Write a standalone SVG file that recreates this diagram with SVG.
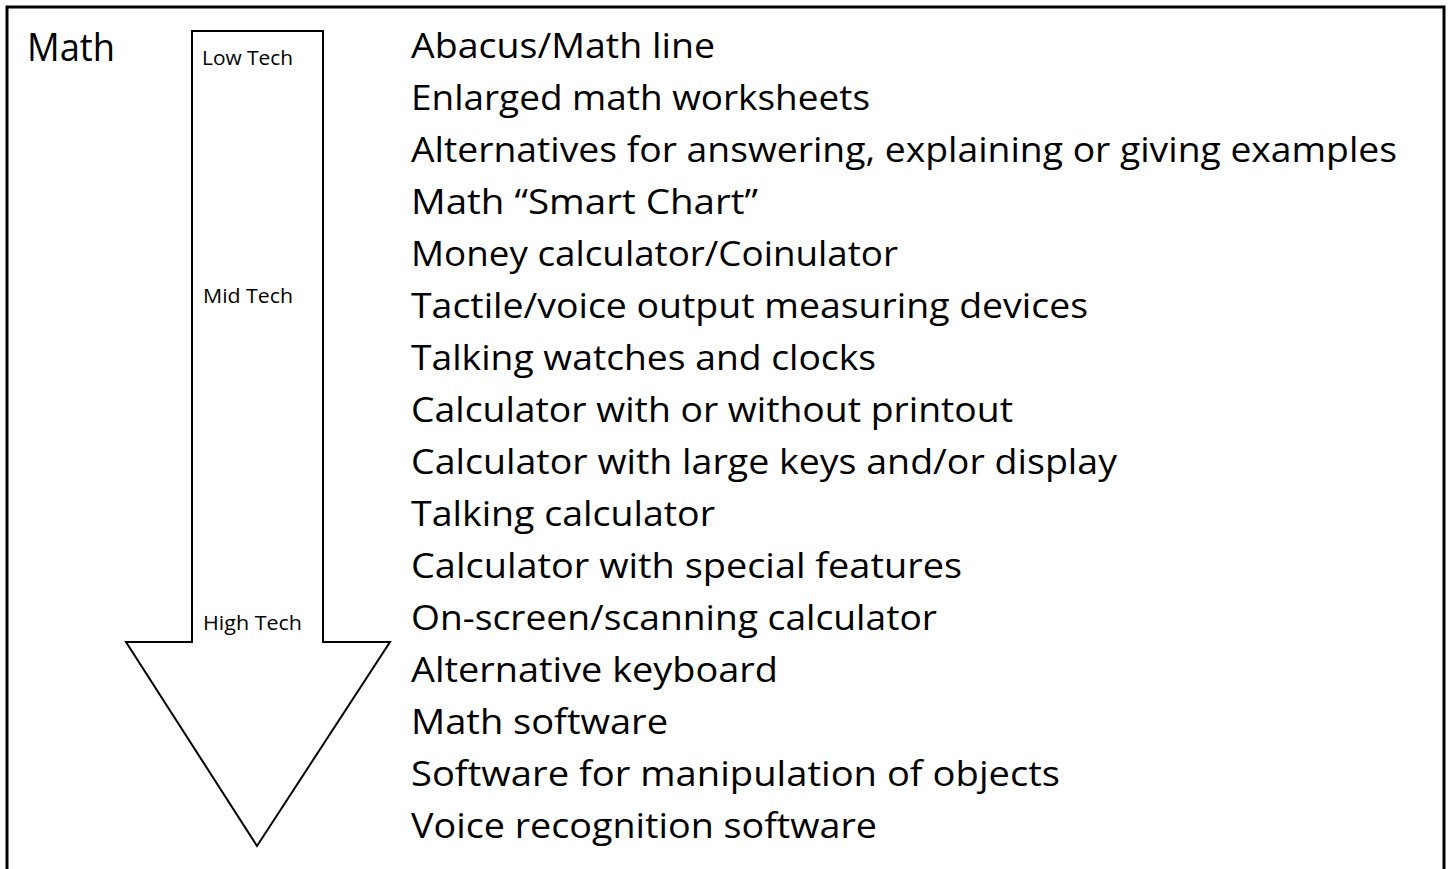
<svg xmlns="http://www.w3.org/2000/svg" width="1452" height="869" viewBox="0 0 1452 869">
<style>
.item{font-family:"Comic Sans MS","Open Sans",sans-serif;font-size:35px;fill:#000}
.tech{font-family:"Comic Sans MS","Open Sans",sans-serif;font-size:20px;fill:#000}
.title{font-family:"Comic Sans MS","Open Sans",sans-serif;font-size:38px;fill:#000}
</style>
<rect x="0" y="0" width="1452" height="869" fill="#fff"/>
<g id="frame">
<rect x="7" y="7" width="1437" height="875" fill="none" stroke="#000" stroke-width="3"/>
</g>
<g id="title">
<text class="title" x="27" y="61" textLength="88" lengthAdjust="spacingAndGlyphs">Math</text>
</g>
<g id="arrow">
<polygon points="192,31 323,31 323,642 390,642 257,846 126,642 192,642" fill="#fff" stroke="#000" stroke-width="2"/>
<text class="tech" x="202" y="65" textLength="91" lengthAdjust="spacingAndGlyphs">Low Tech</text>
<text class="tech" x="203" y="303" textLength="90" lengthAdjust="spacingAndGlyphs">Mid Tech</text>
<text class="tech" x="203" y="630" textLength="99" lengthAdjust="spacingAndGlyphs">High Tech</text>
</g>
<g id="items">
<text class="item" x="411" y="58" textLength="304" lengthAdjust="spacingAndGlyphs">Abacus/Math line</text>
<text class="item" x="411" y="110" textLength="459" lengthAdjust="spacingAndGlyphs">Enlarged math worksheets</text>
<text class="item" x="411" y="162" textLength="986" lengthAdjust="spacingAndGlyphs">Alternatives for answering, explaining or giving examples</text>
<text class="item" x="411" y="214" textLength="347" lengthAdjust="spacingAndGlyphs">Math “Smart Chart”</text>
<text class="item" x="411" y="266" textLength="487" lengthAdjust="spacingAndGlyphs">Money calculator/Coinulator</text>
<text class="item" x="411" y="318" textLength="677" lengthAdjust="spacingAndGlyphs">Tactile/voice output measuring devices</text>
<text class="item" x="411" y="370" textLength="465" lengthAdjust="spacingAndGlyphs">Talking watches and clocks</text>
<text class="item" x="411" y="422" textLength="602" lengthAdjust="spacingAndGlyphs">Calculator with or without printout</text>
<text class="item" x="411" y="474" textLength="706" lengthAdjust="spacingAndGlyphs">Calculator with large keys and/or display</text>
<text class="item" x="411" y="526" textLength="304" lengthAdjust="spacingAndGlyphs">Talking calculator</text>
<text class="item" x="411" y="578" textLength="551" lengthAdjust="spacingAndGlyphs">Calculator with special features</text>
<text class="item" x="411" y="630" textLength="526" lengthAdjust="spacingAndGlyphs">On-screen/scanning calculator</text>
<text class="item" x="411" y="682" textLength="367" lengthAdjust="spacingAndGlyphs">Alternative keyboard</text>
<text class="item" x="411" y="734" textLength="257" lengthAdjust="spacingAndGlyphs">Math software</text>
<text class="item" x="411" y="786" textLength="649" lengthAdjust="spacingAndGlyphs">Software for manipulation of objects</text>
<text class="item" x="411" y="838" textLength="466" lengthAdjust="spacingAndGlyphs">Voice recognition software</text>
</g>
</svg>
